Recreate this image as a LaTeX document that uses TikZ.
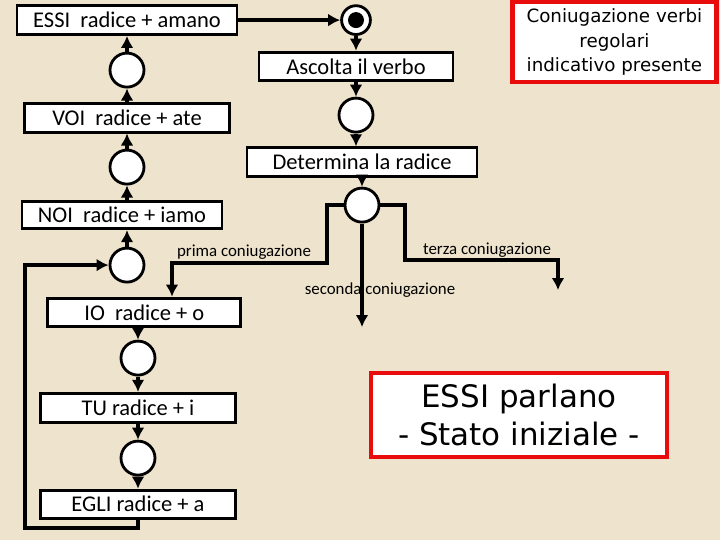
\documentclass[tikz,border=0pt]{standalone}
\usepackage{fontspec}
\setmainfont{Carlito}
\newfontfamily\comicfont{DejaVu Sans}
\usetikzlibrary{arrows.meta,positioning,calc}
\definecolor{carta}{RGB}{238,227,204}
\definecolor{rossoBordo}{RGB}{232,12,12}

\begin{document}
\begin{tikzpicture}[x=1cm,y=1cm,
    azione/.style={draw=black,fill=white,line width=2pt,minimum height=0.72cm,inner sep=0pt,
      font=\fontsize{16}{18}\selectfont},
    stato/.style={circle,draw=black,fill=white,line width=2pt,minimum size=0.85cm,inner sep=0pt},
    freccia/.style={-{Latex[length=3mm,width=3.2mm]},line width=2.6pt},
    ramo/.style={font=\fontsize{12}{14}\selectfont},
    cornice/.style={draw=rossoBordo,fill=white,line width=3pt,align=center,inner sep=0pt}]

  % Sfondo e cornice della pagina.
  \fill[carta] (0,0) rectangle (18,13.5);

  % Colonna di destra : ascolto e radice.
  \node[stato,minimum size=0.72cm] (start) at (8.9,13.0) {};
  \fill (start) circle (0.2);
  \node[azione,minimum width=4.85cm] (ascolta) at (8.9,11.84) {Ascolta il verbo};
  \node[stato] (c6) at (8.9,10.625) {};
  \node[azione,minimum width=5.75cm] (determina) at (9.05,9.45) {Determina la radice};
  \node[stato] (c7) at (9.05,8.375) {};

  % Colonna di sinistra : le sei persone.
  \node[azione,minimum width=5.5cm] (essi) at (3.175,13.0) {ESSI\ \ radice + amano};
  \node[stato] (c1) at (3.175,11.75) {};
  \node[azione,minimum width=5.125cm] (voi) at (3.175,10.56) {VOI\ \ radice + ate};
  \node[stato] (c2) at (3.175,9.325) {};
  \node[azione,minimum width=5.0cm,minimum height=0.68cm] (noi) at (3.05,8.125) {NOI\ \ radice + iamo};
  \node[stato] (c3) at (3.175,6.875) {};
  \node[azione,minimum width=4.825cm] (io) at (3.61,5.69) {IO\ \ radice + o};
  \node[stato] (c4) at (3.45,4.55) {};
  \node[azione,minimum width=4.875cm] (tu) at (3.45,3.31) {TU radice + i};
  \node[stato] (c5) at (3.45,2.05) {};
  \node[azione,minimum width=4.875cm,minimum height=0.7cm] (egli) at (3.45,0.9) {EGLI radice + a};

  % Riquadri rossi.
  \node[cornice,minimum width=5.1cm,minimum height=2.0cm,font=\comicfont\fontsize{13}{17.5}\selectfont]
    (titolo) at (15.36,12.45) {Coniugazione verbi\\regolari\\indicativo presente};
  \node[cornice,minimum width=7.4cm,minimum height=2.1cm,font=\comicfont\fontsize{22}{27}\selectfont]
    (iniziale) at (12.975,3.125) {ESSI parlano\\- Stato iniziale -};

  % Punti di svolta dei rami.
  \coordinate (p1) at (8.175,6.925);
  \coordinate (p2) at (4.3,6.925);
  \coordinate (sec) at (9.05,5.325);
  \coordinate (t1) at (10.125,7.0);
  \coordinate (ter) at (13.95,6.25);
  \coordinate (gA) at (0.625,0.3);

  % Frecce della colonna di destra.
  \draw[freccia] (essi.east) -- (start.west);
  \draw[freccia] (start.south) -- (ascolta.north);
  \draw[freccia] (ascolta.south) -- (c6.north);
  \draw[freccia] (c6.south) -- (c6.south |- determina.north);
  \draw[freccia] (determina.south) -- (c7.north);

  % Tre rami dopo la radice.
  \node[ramo] (lprima) at (6.1,7.2) {prima coniugazione};
  \node[ramo] (lseconda) at (9.5,6.25) {seconda coniugazione};
  \node[ramo] (lterza) at (12.175,7.25) {terza coniugazione};
  \draw[freccia] (c7.west) -| (p1) -- (p2) -- (p2 |- io.north);
  \draw[freccia] (c7.south) -- (sec);
  \draw[freccia] (c7.east) -| (t1) -| (ter);

  % Colonna di sinistra : si sale da IO fino a ESSI.
  \draw[freccia] (io.south -| c4) -- (c4.north);
  \draw[freccia] (c4.south) -- (c4 |- tu.north);
  \draw[freccia] (tu.south -| c5) -- (c5.north);
  \draw[freccia] (c5.south) -- (c5 |- egli.north);
  \draw[freccia] (egli.south -| c5) |- (gA) |- (c3.west);
  \draw[freccia] (c3.north) -- (c3 |- noi.south);
  \draw[freccia] (noi.north -| c2) -- (c2.south);
  \draw[freccia] (c2.north) -- (voi.south);
  \draw[freccia] (voi.north) -- (c1.south);
  \draw[freccia] (c1.north) -- (essi.south);
\end{tikzpicture}
\end{document}
